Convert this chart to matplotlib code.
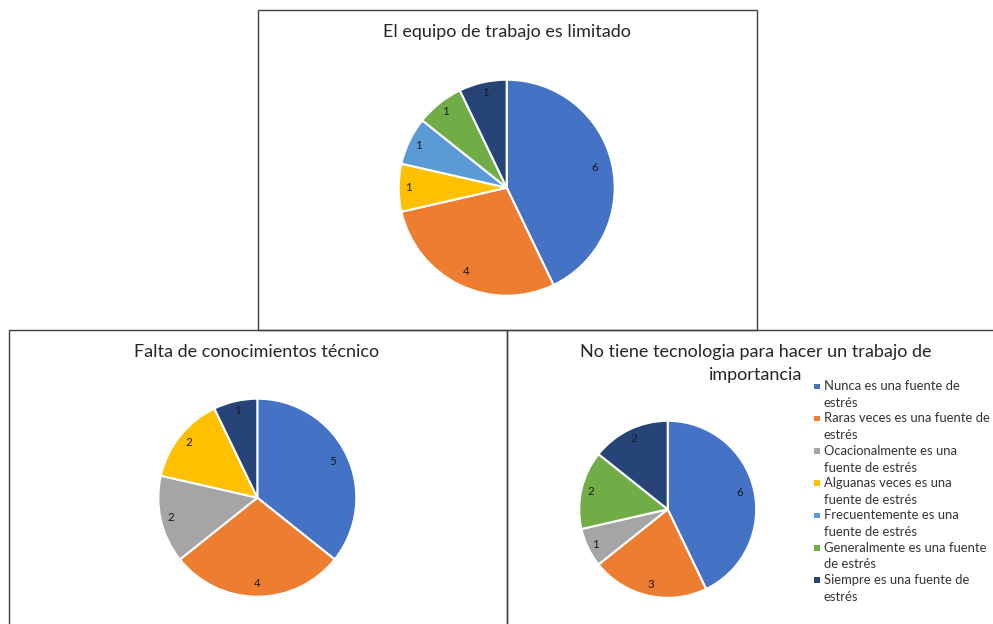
import math
import matplotlib
matplotlib.use("Agg")
import matplotlib.pyplot as plt
from matplotlib.patches import Rectangle

W, H = 993, 624

categories = [
    "Nunca es una fuente de estrés",
    "Raras veces es una fuente de estrés",
    "Ocacionalmente es una fuente de estrés",
    "Alguanas veces es una fuente de estrés",
    "Frecuentemente es una fuente de estrés",
    "Generalmente es una fuente de estrés",
    "Siempre es una fuente de estrés",
]
legend_lines = [
    ("Nunca es una fuente de", "estrés"),
    ("Raras veces es una fuente de", "estrés"),
    ("Ocacionalmente es una", "fuente de estrés"),
    ("Alguanas veces es una", "fuente de estrés"),
    ("Frecuentemente es una", "fuente de estrés"),
    ("Generalmente es una fuente", "de estrés"),
    ("Siempre es una fuente de", "estrés"),
]
colors = ["#4472C4", "#ED7D31", "#A5A5A5", "#FFC000", "#5B9BD5", "#70AD47", "#264478"]

equipo_limitado = [6, 4, 0, 1, 1, 1, 1]
falta_conocimientos = [5, 4, 2, 2, 0, 0, 1]
sin_tecnologia = [6, 3, 1, 0, 0, 2, 2]

titles = [
    "El equipo de trabajo es limitado",
    "Falta de conocimientos técnico",
    "No tiene tecnologia para hacer un trabajo de\nimportancia",
]

FONT = ["Lato", "DejaVu Sans"]
TEXT = "#262626"
BORDER = "#404040"

fig = plt.figure(figsize=(W / 100, H / 100), dpi=100)
fig.patch.set_facecolor("white")


def fx(x):
    return x / W


def fy(y):
    return (H - y) / H


# panel frames
def frame(x0, y0, x1, y1):
    fig.add_artist(Rectangle((fx(x0), fy(y1)), fx(x1) - fx(x0), fy(y0) - fy(y1),
                             transform=fig.transFigure, fill=False,
                             edgecolor=BORDER, linewidth=1.0))


frame(258, 10, 757, 330)
frame(9, 330, 507, 640)
frame(507, 330, 1000, 640)

PAD = 1.03


def draw_pie(values, cx, cy, r):
    rr = r * PAD
    ax = fig.add_axes([fx(cx - rr), fy(cy + rr), 2 * rr / W, 2 * rr / H])
    vals = [v for v in values if v > 0]
    cols = [c for v, c in zip(values, colors) if v > 0]
    wedges, _ = ax.pie(vals, colors=cols, startangle=90, counterclock=False,
                       radius=1.0,
                       wedgeprops=dict(edgecolor="white", linewidth=1.5))
    total = sum(vals)
    for w, v in zip(wedges, vals):
        frac = v / total
        d = 0.92 - 0.2 * frac
        ang = math.radians((w.theta1 + w.theta2) / 2)
        ax.text(d * math.cos(ang), d * math.sin(ang), str(v), ha="center",
                va="center", fontsize=8.3, color="#1a1a1a", family=FONT)
    ax.set_xlim(-PAD, PAD)
    ax.set_ylim(-PAD, PAD)
    ax.set_aspect("equal")
    ax.axis("off")


draw_pie(equipo_limitado, 506.7, 187.7, 108)
draw_pie(falta_conocimientos, 257.3, 497.7, 99)
draw_pie(sin_tecnologia, 667.7, 509.3, 88.5)

# chart titles
TS = 13
fig.text(fx(507), fy(32), titles[0], ha="center", va="center",
         fontsize=TS, color=TEXT, family=FONT)
fig.text(fx(257), fy(352), titles[1], ha="center", va="center",
         fontsize=TS, color=TEXT, family=FONT)
t1, t2 = titles[2].split("\n")
fig.text(fx(756), fy(352), t1, ha="center", va="center",
         fontsize=TS, color=TEXT, family=FONT)
fig.text(fx(756), fy(375), t2, ha="center", va="center",
         fontsize=TS, color=TEXT, family=FONT)

# legend
y0 = 386.0
pitch = 32.3
for i, ((l1, l2), c) in enumerate(zip(legend_lines, colors)):
    y = y0 + i * pitch
    fig.add_artist(Rectangle((fx(814), fy(y + 3)), 5.5 / W, 5.5 / H,
                             transform=fig.transFigure, facecolor=c,
                             edgecolor="none"))
    fig.text(fx(824), fy(y), l1, ha="left", va="center", fontsize=9.35,
             color="#333333", family=FONT)
    fig.text(fx(824), fy(y + 17), l2, ha="left", va="center", fontsize=9.35,
             color="#333333", family=FONT)

fig.savefig("out.png", dpi=100, facecolor="white")
